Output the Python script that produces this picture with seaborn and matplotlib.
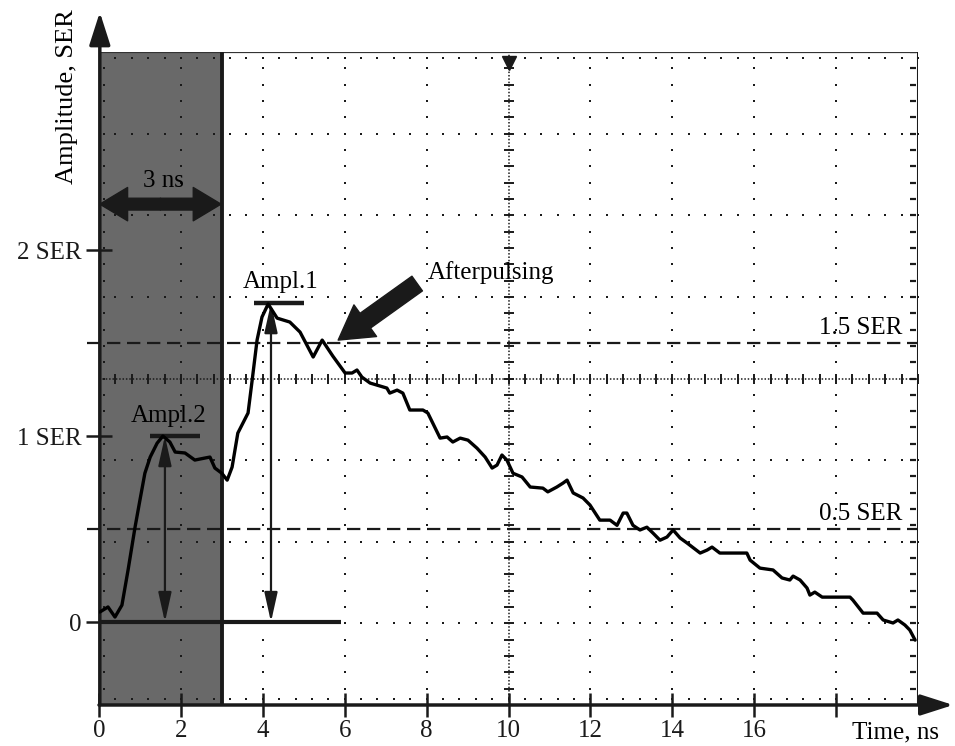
"""
Oscilloscope trace of a PMT pulse with afterpulsing, redrawn with seaborn.
"""

import numpy as np
import pandas as pd
import seaborn as sns
import matplotlib.pyplot as plt

# trace (time in ns, amplitude in SER)
time_ns = [0.02, 0.22, 0.39, 0.56, 0.71, 0.88, 1.00, 1.12, 1.25, 1.42, 1.56,
           1.73, 1.86, 2.10, 2.34, 2.59, 2.71, 2.83, 3.00, 3.13, 3.25, 3.39,
           3.64, 3.74, 3.86, 3.98, 4.13, 4.35, 4.66, 4.91, 5.23, 5.45, 5.71,
           6.01, 6.18, 6.30, 6.42, 6.62, 7.03, 7.10, 7.28, 7.42, 7.59, 7.91,
           8.03, 8.33, 8.50, 8.64, 8.82, 9.01, 9.23, 9.43, 9.60, 9.72, 9.84,
           9.96, 10.11, 10.33, 10.53, 10.84, 10.96, 11.18, 11.33, 11.43,
           11.58, 11.82, 11.99, 12.23, 12.48, 12.65, 12.80, 12.89, 13.04,
           13.21, 13.38, 13.53, 13.70, 13.87, 14.02, 14.19, 14.36, 14.68,
           14.85, 14.97, 15.16, 15.82, 15.90, 16.14, 16.46, 16.68, 16.87,
           16.95, 17.12, 17.29, 17.36, 17.48, 17.66, 18.34, 18.41, 18.66,
           19.00, 19.15, 19.39, 19.51, 19.68, 19.80, 19.93]
amplitude_ser = [0.054, 0.081, 0.027, 0.091, 0.28, 0.51, 0.656, 0.80, 0.887,
                 0.962, 1.0, 0.968, 0.914, 0.909, 0.871, 0.882, 0.887, 0.828,
                 0.80, 0.763, 0.833, 1.016, 1.124, 1.30, 1.516, 1.64, 1.71,
                 1.634, 1.613, 1.559, 1.425, 1.516, 1.43, 1.339, 1.339, 1.355,
                 1.317, 1.285, 1.258, 1.231, 1.247, 1.231, 1.14, 1.14, 1.124,
                 0.989, 0.995, 0.968, 0.989, 0.978, 0.935, 0.887, 0.828,
                 0.844, 0.898, 0.871, 0.80, 0.78, 0.726, 0.72, 0.70, 0.726,
                 0.747, 0.763, 0.694, 0.667, 0.629, 0.548, 0.548, 0.52, 0.586,
                 0.586, 0.52, 0.495, 0.51, 0.478, 0.44, 0.457, 0.495, 0.452,
                 0.425, 0.371, 0.387, 0.403, 0.371, 0.371, 0.333, 0.29, 0.28,
                 0.237, 0.226, 0.247, 0.226, 0.183, 0.145, 0.161, 0.134,
                 0.134, 0.118, 0.048, 0.048, 0.011, -0.005, 0.011, -0.016,
                 -0.043, -0.097]

x_ticks = [0, 2, 4, 6, 8, 10, 12, 14, 16, 18]
x_tick_labels = ["0", "2", "4", "6", "8", "10", "12", "14", "16", ""]
y_ticks = [0, 1, 2]
y_tick_labels = ["0", "1 SER", "2 SER"]
ref_levels = [0.5, 1.5]
ref_labels = ["0.5 SER", "1.5 SER"]

gate_ns = 3.0
ampl1_t, ampl1_level, ampl1_bar = 4.2, 1.715, (3.79, 5.0)
ampl2_t, ampl2_level, ampl2_bar = 1.61, 1.0, (1.25, 2.47)
baseline_end = 5.91
arrow_y = 2.247

x_lo, x_hi = 0.0, 20.0
y_lo, y_hi = -0.446, 3.065

sns.set_theme(style="white")
plt.rcParams["font.family"] = ["Liberation Serif", "DejaVu Serif"]
plt.rcParams["text.color"] = "black"
plt.rcParams["xtick.color"] = "black"
plt.rcParams["ytick.color"] = "black"

fig = plt.figure(figsize=(9.55, 7.46), dpi=100)
ax = fig.add_axes([99 / 955, 41 / 746, 819 / 955, 653 / 746])
ax.set_xlim(x_lo, x_hi)
ax.set_ylim(y_lo, y_hi)
for s in ax.spines.values():
    s.set_visible(False)

# shaded 3 ns gate
ax.axvspan(0, gate_ns, color="#696969", lw=0, zorder=0)

# oscilloscope graticule: dotted divisions
x_major = np.linspace(x_lo, x_hi, 11)
y_major = np.linspace(y_lo, y_hi, 9)
x_minor = np.linspace(x_lo, x_hi, 51)
y_minor = np.linspace(y_lo, y_hi, 41)
x_mid, y_mid = x_major[5], y_major[4]
dot = dict(ls="none", marker="s", ms=1.8, mew=0, color="k", zorder=2)
for xv in x_major[1:-1]:
    if xv != x_mid:
        ax.plot(np.full_like(y_minor, xv), y_minor, **dot)
for yv in y_major[1:-1]:
    if yv != y_mid:
        ax.plot(x_minor, np.full_like(x_minor, yv), **dot)
# edge marks
ax.plot(np.full_like(y_minor, 0.13), y_minor, **dot)
ax.plot(np.full_like(y_minor, x_hi - 0.12), y_minor, ls="none",
        marker="_", ms=4, mew=1.6, color="k", zorder=2)
ax.plot(x_minor, np.full_like(x_minor, y_hi - 0.03), **dot)
ax.plot(x_minor, np.full_like(x_minor, y_lo + 0.03), **dot)
# centre cross
ax.axvline(x_mid, ls=(0, (1, 1.2)), lw=1.1, color="k", zorder=2)
ax.axhline(y_mid, ls=(0, (1, 1.2)), lw=1.1, color="k", zorder=2)
ax.plot(np.full_like(y_minor, x_mid), y_minor, ls="none", marker="_",
        ms=7, mew=1.4, color="k", zorder=2)
ax.plot(x_minor, np.full_like(x_minor, y_mid), ls="none", marker="|",
        ms=7, mew=1.4, color="k", zorder=2)
ax.plot([x_mid], [y_hi - 0.06], marker="v", ms=10, color="k", zorder=3)

# frame
ax.axhline(y_hi, color="#333333", lw=1.6, zorder=3)
ax.axvline(x_hi, color="k", lw=2.2, zorder=3)
ax.axvline(gate_ns, color="k", lw=2.8, zorder=3)

# reference levels
for lvl, lab in zip(ref_levels, ref_labels):
    ax.plot([-0.3, x_hi], [lvl, lvl], ls=(0, (6, 3)), lw=1.6, color="k",
            clip_on=False, zorder=3)
    ax.text(19.63, lvl + 0.08, lab, ha="right", va="center", fontsize=18)

# signal trace
df = pd.DataFrame({"Time": time_ns, "Amplitude": amplitude_ser})
sns.lineplot(data=df, x="Time", y="Amplitude", color="black", lw=2.4,
             estimator=None, ax=ax, zorder=5)
ax.set_xlabel("")
ax.set_ylabel("")

# baseline and amplitude markers
ax.plot([0, baseline_end], [0, 0], lw=3, color="k", zorder=4,
        solid_capstyle="butt")
ax.plot(ampl1_bar, [ampl1_level] * 2, lw=3.2, color="k", zorder=4,
        solid_capstyle="butt")
ax.plot(ampl2_bar, [ampl2_level] * 2, lw=3.2, color="k", zorder=4,
        solid_capstyle="butt")
dbl = dict(arrowstyle="<|-|>,head_length=0.9,head_width=0.2", lw=1.6,
           color="k", shrinkA=0, shrinkB=0, mutation_scale=20)
ax.annotate("", xy=(ampl1_t, ampl1_level), xytext=(ampl1_t, 0),
            arrowprops=dbl, zorder=4)
ax.annotate("", xy=(ampl2_t, ampl2_level), xytext=(ampl2_t, 0),
            arrowprops=dbl, zorder=4)
ax.text(4.44, 1.83, "Ampl.1", ha="center", va="center", fontsize=18)
ax.text(1.69, 1.11, "Ampl.2", ha="center", va="center", fontsize=18)

# afterpulsing arrow
ax.annotate("", xy=(5.84, 1.516), xytext=(7.77, 1.82),
            arrowprops=dict(arrowstyle="simple,head_length=2.4,head_width=2.8,"
                                       "tail_width=1.3",
                            mutation_scale=10, fc="k", ec="k",
                            shrinkA=0, shrinkB=0), zorder=6)
ax.text(9.58, 1.88, "Afterpulsing", ha="center", va="center", fontsize=18)

# 3 ns span arrow
fat = dict(arrowstyle="simple,head_length=2.0,head_width=2.4,tail_width=0.85",
           mutation_scale=10, fc="k", ec="k", shrinkA=0, shrinkB=0)
mid = gate_ns / 2
ax.annotate("", xy=(0.02, arrow_y), xytext=(mid, arrow_y), arrowprops=fat,
            zorder=6)
ax.annotate("", xy=(gate_ns - 0.02, arrow_y), xytext=(mid, arrow_y),
            arrowprops=fat, zorder=6)
ax.text(1.57, 2.37, "3 ns", ha="center", va="center", fontsize=18)

# axes with arrow heads
ax_arrow = dict(arrowstyle="-|>,head_length=1.0,head_width=0.32", lw=2.5,
                color="k", shrinkA=0, shrinkB=0, mutation_scale=20)
ax.annotate("", xy=(0.001, 1.061), xytext=(0.001, 0), xycoords="axes fraction",
            arrowprops=ax_arrow, annotation_clip=False)
ax.annotate("", xy=(1.043, 0), xytext=(0, 0), xycoords="axes fraction",
            arrowprops=ax_arrow, annotation_clip=False)

ax.set_xticks(x_ticks, x_tick_labels)
ax.set_yticks(y_ticks, y_tick_labels)
ax.tick_params(axis="x", bottom=True, direction="inout", length=17,
               width=1.8, color="k", labelsize=18, pad=2, labelcolor="k")
ax.tick_params(axis="y", left=True, direction="inout", length=19,
               width=1.8, color="k", labelsize=18, pad=3, labelcolor="k")
ax.text(19.46, -0.025, "Time, ns", transform=ax.get_xaxis_transform(),
        ha="center", va="top", fontsize=18)
fig.text(0.070, 0.87, "Amplitude, SER", rotation=90, ha="center",
         va="center", fontsize=19)

fig.savefig("out.png", dpi=100)
